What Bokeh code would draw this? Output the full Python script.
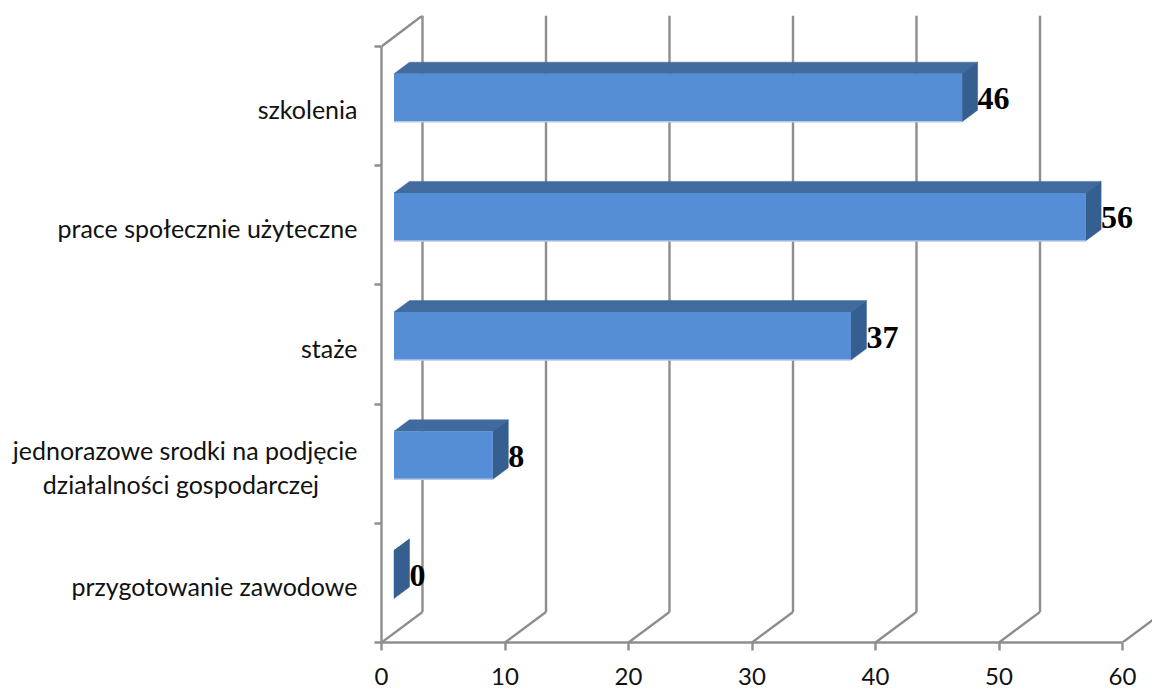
from bokeh.plotting import figure
from bokeh.embed import file_html
from bokeh.resources import INLINE
from bokeh.models import Range1d, LinearAxis, FixedTicker
from bokeh.core.properties import value

# each category is a list of lines; the second line of the long label is padded
# with no-break spaces so that the right-aligned axis labels read as centred lines
categories = [["przygotowanie zawodowe"],
              ["jednorazowe srodki na podjęcie", "działalności gospodarczej" + "\u00a0" * 6],
              ["staże"], ["prace społecznie użyteczne"], ["szkolenia"]]
values = [0, 8, 37, 56, 46]
x_ticks = [0, 10, 20, 30, 40, 50, 60]

PX_X = 12.35   # px per value unit
PX_Y = 119.2   # px per category band
FRAME_W, FRAME_H = 771, 627
WALL_DX, WALL_DY = 41 / PX_X, 30.5 / PX_Y
BAR_DX, BAR_DY = 15.5 / PX_X, 11.5 / PX_Y
BAR_X0 = 12.5 / PX_X
BAR_BOTTOM, BAR_H = 44 / PX_Y, 48 / PX_Y
LEADING = 34 / PX_Y
GRAY = "#8e8e8e"
LINE_W = 2.4
AXIS_FONT = "Lato"
Y_SIZE = "25px"
X_SIZE = "24px"
TEXT_COLOR = "#111111"

p = figure(frame_width=FRAME_W, frame_height=FRAME_H, toolbar_location=None,
           output_backend="svg", x_axis_location=None, y_axis_location=None,
           x_range=Range1d(0, FRAME_W / PX_X), y_range=Range1d(0, FRAME_H / PX_Y),
           min_border_left=381, min_border_right=0, min_border_top=15, min_border_bottom=47)
p.outline_line_color = None
p.grid.visible = False

n = len(categories)
ax = LinearAxis(ticker=FixedTicker(ticks=x_ticks), bounds=(0, x_ticks[-1]))
ax.axis_line_color = GRAY; ax.axis_line_width = LINE_W
ax.major_tick_line_color = GRAY; ax.major_tick_line_width = LINE_W
ax.major_tick_in = 0; ax.major_tick_out = 8
ax.minor_tick_in = 0; ax.minor_tick_out = 0
ax.major_label_text_font = AXIS_FONT; ax.major_label_text_font_size = X_SIZE
ax.major_label_text_color = TEXT_COLOR; ax.major_label_standoff = 17
p.add_layout(ax, "below")

label_shift = 3 / PX_Y
line_labels = {}
for i, lines in enumerate(categories):
    for k, line in enumerate(lines):
        pos = i + 0.5 - label_shift + ((len(lines) - 1) / 2 - k) * LEADING
        line_labels[pos] = line
bounds = list(range(n + 1))
ay = LinearAxis(ticker=FixedTicker(ticks=list(line_labels), minor_ticks=bounds), bounds=(0, n))
ay.major_label_overrides = line_labels
ay.axis_line_color = GRAY; ay.axis_line_width = LINE_W
ay.major_tick_in = 0; ay.major_tick_out = 0
ay.minor_tick_line_color = GRAY; ay.minor_tick_line_width = LINE_W
ay.minor_tick_in = 0; ay.minor_tick_out = 7
ay.major_label_text_font = AXIS_FONT; ay.major_label_text_font_size = Y_SIZE
ay.major_label_text_color = TEXT_COLOR; ay.major_label_standoff = 17
p.add_layout(ay, "left")

# back wall lines and floor diagonals
top = FRAME_H / PX_Y
p.segment([t + WALL_DX for t in x_ticks[:-1]], WALL_DY,
          [t + WALL_DX for t in x_ticks[:-1]], top,
          line_color=GRAY, line_width=LINE_W)
p.segment(x_ticks, 0, [t + WALL_DX for t in x_ticks], WALL_DY, line_color=GRAY, line_width=LINE_W)
p.segment([0], [n], [WALL_DX], [top], line_color=GRAY, line_width=LINE_W)

# 3D bars
for i, v in enumerate(values):
    y0 = i + BAR_BOTTOM
    y1 = y0 + BAR_H
    x0 = BAR_X0
    x1 = x0 + v
    p.patch([x0, x1, x1 + BAR_DX, x0 + BAR_DX], [y1, y1, y1 + BAR_DY, y1 + BAR_DY],
            fill_color="#416b9f", line_color="#416b9f", line_width=0.5)
    p.patch([x1, x1 + BAR_DX, x1 + BAR_DX, x1], [y0, y0 + BAR_DY, y1 + BAR_DY, y1],
            fill_color="#355f91", line_color="#355f91", line_width=0.5)
    if v > 0:
        p.quad(left=[x0], right=[x1], bottom=[y0], top=[y1],
               fill_color="#558ed5", line_color=None)
        p.segment([x0], [y0], [x1], [y0], line_color="#b4c9e8", line_width=1.5)
    p.text([x1 + BAR_DX], [y0 + BAR_H / 2 - 1 / PX_Y], text=[str(v)],
           text_font=value("Liberation Serif"), text_font_style="bold",
           text_font_size="32px", text_color="#000000",
           text_align="left", text_baseline="middle")

open("out.html", "w").write(file_html(p, INLINE))
